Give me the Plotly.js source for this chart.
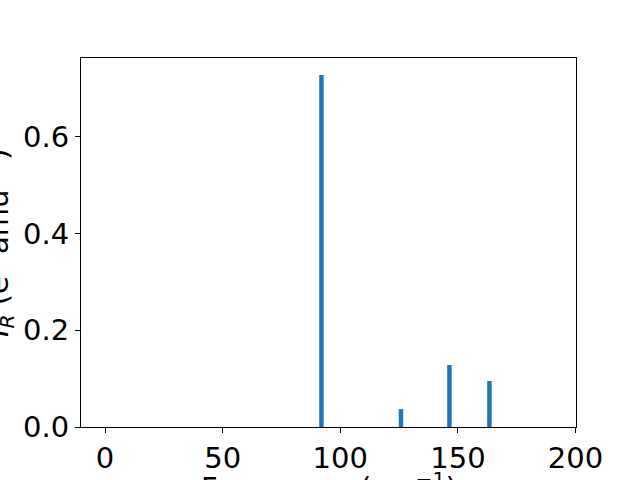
<!DOCTYPE html>
<html>
<head>
<meta charset="utf-8">
<script src="https://cdn.plot.ly/plotly-3.0.1.min.js"></script>
<style>html,body{margin:0;padding:0;background:#fff;}#chart{width:640px;height:480px;}</style>
</head>
<body>
<div id="chart"></div>
<script>
const frequencies = [92.0, 125.8, 146.4, 163.4];
const intensities = [0.7275, 0.037, 0.128, 0.095];
const xTicks = [0, 50, 100, 150, 200];
const yTicks = [0.0, 0.2, 0.4, 0.6];

const font = {family: 'DejaVu Sans', size: 29, color: '#000'};

const trace = {
  type: 'bar',
  x: frequencies,
  y: intensities,
  width: 1.9,
  marker: {color: '#1f77b4', line: {width: 0}},
  hoverinfo: 'x+y'
};

const layout = {
  width: 640, height: 480,
  margin: {l: 81, r: 64, t: 58, b: 53, pad: 0},
  paper_bgcolor: '#fff', plot_bgcolor: '#fff',
  showlegend: false,
  font: font,
  xaxis: {
    range: [-10.2, 200.2],
    tickvals: xTicks,
    ticktext: xTicks.map(String),
    ticks: 'outside', ticklen: 5, tickwidth: 1, tickcolor: '#000',
    showline: true, linecolor: '#000', linewidth: 1, mirror: true,
    showgrid: false, zeroline: false,
    tickfont: font
  },
  yaxis: {
    range: [0, 0.7626],
    tickvals: yTicks,
    ticktext: yTicks.map(v => v.toFixed(1)),
    ticks: 'outside', ticklen: 5, tickwidth: 1, tickcolor: '#000',
    showline: true, linecolor: '#000', linewidth: 1, mirror: true,
    showgrid: false, zeroline: false,
    tickfont: font
  },
  annotations: [
    {
      text: 'Frequency (cm<sup>−1</sup>)',
      xref: 'paper', yref: 'paper', x: 0.5, y: -0.104,
      xanchor: 'center', yanchor: 'top', showarrow: false,
      font: font
    },
    {
      text: '<i>I</i><sub><i>R</i></sub> (e<sup>2</sup> amu<sup>−1</sup>)',
      xref: 'paper', yref: 'paper', x: -0.122, y: 0.5,
      xanchor: 'right', yanchor: 'middle', textangle: -90, showarrow: false,
      font: font
    }
  ]
};

Plotly.newPlot('chart', [trace], layout, {displayModeBar: false, staticPlot: true});
</script>
</body>
</html>
